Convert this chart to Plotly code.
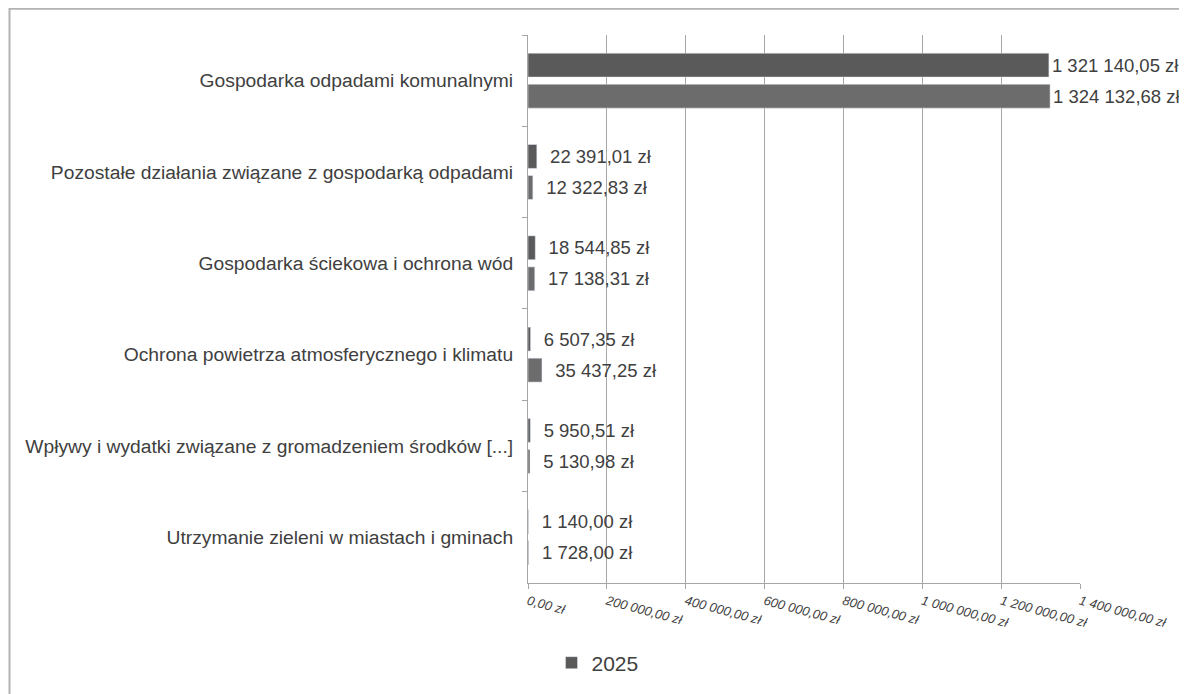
import plotly.graph_objects as go

categories = [
    "Gospodarka odpadami komunalnymi",
    "Pozostałe działania związane z gospodarką odpadami",
    "Gospodarka ściekowa i ochrona wód",
    "Ochrona powietrza atmosferycznego i klimatu",
    "Wpływy i wydatki związane z gromadzeniem środków [...]",
    "Utrzymanie zieleni w miastach i gminach",
]
series_2025 = [1321140.05, 22391.01, 18544.85, 6507.35, 5950.51, 1140.00]
series_other = [1324132.68, 12322.83, 17138.31, 35437.25, 5130.98, 1728.00]
tick_vals = [0, 200000, 400000, 600000, 800000, 1000000, 1200000, 1400000]
tick_text = ["0,00 zł", "200 000,00 zł", "400 000,00 zł", "600 000,00 zł",
             "800 000,00 zł", "1 000 000,00 zł", "1 200 000,00 zł", "1 400 000,00 zł"]


def fmt(v):
    s = f"{v:,.2f}".replace(",", " ").replace(".", ",")
    # short bars get a wider gap before their label; long bars keep it tight
    pad = "\u00a0\u00a0" if v < 1000000 else ""
    return pad + s + " zł"


FONT = "Liberation Sans, Arial, sans-serif"
TXT = "#404040"
GRID = "#a6a6a6"

fig = go.Figure()
fig.add_trace(go.Bar(
    y=categories, x=series_2025, orientation="h", name="2025",
    marker=dict(color="#5a5a5a"),
    text=[fmt(v) for v in series_2025], textposition="outside",
    textfont=dict(family=FONT, size=18.5, color=TXT), cliponaxis=False,
))
fig.add_trace(go.Bar(
    y=categories, x=series_other, orientation="h", name="",
    marker=dict(color="#6c6c6c"), showlegend=False,
    text=[fmt(v) for v in series_other], textposition="outside",
    textfont=dict(family=FONT, size=18.5, color=TXT), cliponaxis=False,
))

# page body has an 8px default margin, so target pixel positions are shifted by 8
OFF = 8
L, R, T, B = 528 - OFF, 1080 - OFF, 35 - OFF, 587 - OFF
W, H = 1187 - OFF, 694 - OFF
pw, ph = R - L, B - T

fig.update_layout(
    width=W, height=H,
    margin=dict(l=L, r=W - R, t=T, b=H - B),
    paper_bgcolor="white", plot_bgcolor="white",
    barmode="group", bargap=0.32, bargroupgap=0.23,
    font=dict(family=FONT, color=TXT),
    legend=dict(orientation="h", xref="container", yref="container",
                x=0.5, xanchor="center", y=(H - (663 - OFF)) / H, yanchor="middle",
                font=dict(size=21, color=TXT, family=FONT), itemwidth=30),
    xaxis=dict(range=[0, 1400000], tickvals=tick_vals, ticktext=tick_text,
               tickangle=15,
               tickfont=dict(size=13, color=TXT, family=FONT, style="italic"),
               showgrid=True, gridcolor=GRID, gridwidth=1,
               showline=True, linecolor=GRID, linewidth=1,
               ticks="outside", ticklen=5, tickcolor=GRID,
               zeroline=False, fixedrange=True),
    yaxis=dict(autorange="reversed", tickfont=dict(size=19.25, color=TXT, family=FONT),
               showline=True, linecolor=GRID, linewidth=1,
               ticks="outside", ticklen=5, tickcolor=GRID,
               tickson="boundaries", ticklabelstandoff=10, showgrid=False),
)

# outer frame (cropped chart border)
fig.add_shape(type="rect", xref="paper", yref="paper",
              x0=(9.5 - OFF - L) / pw, x1=(W + 20 - L) / pw,
              y0=(B - (H + 20)) / ph, y1=1 + (T - (8.5 - OFF)) / ph,
              line=dict(color="#b3b3b3", width=2), fillcolor="rgba(0,0,0,0)",
              layer="below")

fig.write_html("out.html")
